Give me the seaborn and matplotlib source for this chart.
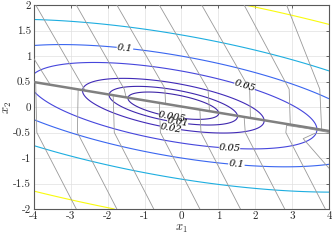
import numpy as np
import pandas as pd
import matplotlib
matplotlib.use("Agg")
import matplotlib.pyplot as plt
import seaborn as sns

sns.set_style("whitegrid")
plt.rcParams["font.family"] = ["cmr10", "DejaVu Serif"]
plt.rcParams["mathtext.fontset"] = "cm"
plt.rcParams["axes.unicode_minus"] = False
plt.rcParams["axes.formatter.use_mathtext"] = True

# contour levels and colours (parula, mapped linearly on the level value)
levels = [0.005, 0.01, 0.02, 0.05, 0.1, 0.2, 0.5]
level_colors = ["#3e26a8", "#3f28ae", "#412bb8", "#4646dc", "#3a66f0", "#1eaee0", "#f9fb0e"]
label_levels = [0.005, 0.01, 0.02, 0.05, 0.1]
label_pos = [(-0.25, -0.12), (-0.1, -0.28), (-0.3, -0.42),
             (1.72, 0.43), (1.3, -0.84), (-1.53, 1.16), (1.5, -1.04)]

# quadratic model of the objective
centre_x1 = -0.22
valley_slope = -0.12
curv_x1 = 0.0033
curv_x2 = 0.1

# slow manifold (thick grey line)
manifold_x1 = [-4.0, 4.0]
manifold_x2 = [0.49, -0.47]

# trajectories entering from the top / bottom edges
traj_x1 = [
    [-4.0, -3.55],
    [-3.95, -2.6],
    [-2.85, -1.55, -1.5],
    [-1.75, -0.45, -0.43],
    [-0.6, 0.72, 0.76],
    [0.55, 1.85, 1.87],
    [1.7, 2.92, 2.95],
    [2.85, 3.75, 3.8],
    [-2.85, -3.92, -3.95],
    [-1.75, -2.82, -2.8],
    [-0.75, -1.82, -1.85],
    [0.5, -0.57, -0.6],
    [1.6, 0.53, 0.5],
    [2.8, 1.73, 1.7],
    [3.9, 2.83, 2.85, 3.4, 4.0],
    [4.0, 3.3, 3.6, 4.0],
]
traj_x2 = [
    [0.95, 0.43],
    [2.0, 0.31],
    [2.0, 0.35, 0.19],
    [2.0, 0.37, 0.06],
    [2.0, 0.35, -0.08],
    [2.0, 0.35, -0.21],
    [2.0, 0.35, -0.34],
    [2.0, 0.35, -0.43],
    [-2.0, -0.5, 0.48],
    [-2.0, -0.5, 0.34],
    [-2.0, -0.5, 0.23],
    [-2.0, -0.5, 0.07],
    [-2.0, -0.5, -0.06],
    [-2.0, -0.5, -0.2],
    [-2.0, -0.5, -0.36, -0.42, -0.5],
    [-1.2, -0.62, -0.52, -0.52],
]

rows = []
for i, (xs, ys) in enumerate(zip(traj_x1, traj_x2)):
    for j, (a, b) in enumerate(zip(xs, ys)):
        rows.append({"traj": i, "step": j, "x1": a, "x2": b})
traj_df = pd.DataFrame(rows)
manifold_df = pd.DataFrame({"x1": manifold_x1, "x2": manifold_x2})

g1 = np.linspace(-4, 4, 401)
g2 = np.linspace(-2, 2, 301)
X1, X2 = np.meshgrid(g1, g2)
F = curv_x1 * (X1 - centre_x1) ** 2 + curv_x2 * (X2 - valley_slope * X1) ** 2

fig, ax = plt.subplots(figsize=(3.32, 2.4), dpi=100)
fig.subplots_adjust(left=0.102, right=0.991, bottom=0.129, top=0.979)

cs = ax.contour(X1, X2, F, levels=levels, colors=level_colors, linewidths=0.8, zorder=2)
ax.clabel(cs, levels=label_levels, manual=label_pos, inline=True, inline_spacing=2,
          fmt=lambda v: f"{v:g}", fontsize=7)
for t in cs.labelTexts:
    t.set_color("black")
    t.set_fontfamily("DejaVu Serif")
    t.set_fontstyle("italic")

sns.lineplot(data=traj_df, x="x1", y="x2", units="traj", estimator=None, sort=False,
             color="#999999", linewidth=0.6, ax=ax, zorder=3)
sns.lineplot(data=manifold_df, x="x1", y="x2", sort=False, color="#808080",
             linewidth=1.8, ax=ax, zorder=4)

ax.set_xlim(-4, 4)
ax.set_ylim(-2, 2)
ax.set_xticks(np.arange(-4, 5, 1))
ax.set_yticks(np.arange(-2, 2.01, 0.5))
ax.xaxis.set_major_formatter(matplotlib.ticker.FormatStrFormatter("%g"))
ax.yaxis.set_major_formatter(matplotlib.ticker.FormatStrFormatter("%g"))
ax.tick_params(direction="in", length=2.5, width=0.6, color="0.3", top=True, right=True,
               labelsize=8, pad=2)
ax.grid(True, color="0.88", linewidth=0.5)
for s in ax.spines.values():
    s.set_color("0.35")
    s.set_linewidth(0.8)
ax.set_xlabel(r"$x_1$", fontsize=9, labelpad=1)
ax.set_ylabel(r"$x_2$", fontsize=9, labelpad=-1)

fig.savefig("out.png", dpi=100)
